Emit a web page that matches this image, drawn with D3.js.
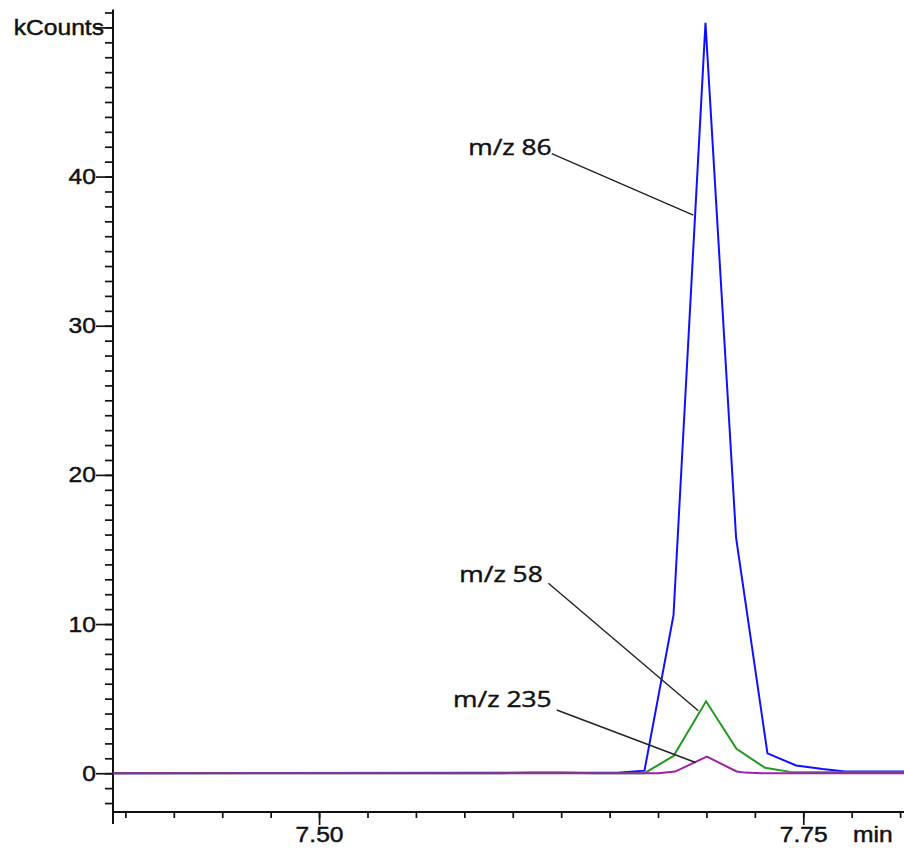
<!DOCTYPE html>
<html>
<head>
<meta charset="utf-8">
<script src="https://cdn.jsdelivr.net/npm/d3@7/dist/d3.min.js"></script>
<style>
  html, body { margin: 0; padding: 0; background: #fff; }
  svg { display: block; }
  .lbl { paint-order: stroke; stroke: #111; stroke-width: 0.45px; }
</style>
</head>
<body>
<svg id="chart" width="904" height="853"></svg>
<script>
// Extracted ion chromatograms: [retention time (min), intensity (kCounts)]
const mz86 = [
  [7.3936, 0], [7.654, 0.03], [7.668, 0.17], [7.683, 10.6], [7.6995, 50.3],
  [7.7153, 15.8], [7.7315, 1.33], [7.7463, 0.52], [7.760, 0.28], [7.7716, 0.12], [7.802, 0.12]
];
const mz58 = [
  [7.3936, 0], [7.594, 0], [7.6098, 0.04], [7.6261, 0.04], [7.641, 0], [7.668, 0],
  [7.683, 1.16], [7.6998, 4.82], [7.7155, 1.63], [7.7303, 0.36], [7.7432, 0.09], [7.802, 0.07]
];
const mz235 = [
  [7.3936, 0], [7.6752, 0], [7.6838, 0.11], [7.7002, 1.11], [7.7156, 0.12],
  [7.7199, 0.04], [7.7285, 0], [7.802, 0]
];

const seriesNames = ["m/z 86", "m/z 58", "m/z 235"];
const seriesColors = ["#1010ff", "#1f9a1f", "#a020a8"];

// Axis ticks and labels
const yMajorTicks = [0, 10, 20, 30, 40, 50];
const yTickLabels = ["0", "10", "20", "30", "40", "kCounts"];
const xMajorTicks = [7.50, 7.75];
const xTickLabels = ["7.50", "7.75"];
const xUnitLabel = "min";

// Callout labels: text end point and leader line, in data units
const callouts = [
  { text: "m/z 86",  textAt: [7.6201, 41.43], from: [7.6201, 41.54], to: [7.6932, 37.41] },
  { text: "m/z 58",  textAt: [7.6155, 12.84], from: [7.6184, 12.73], to: [7.6958, 4.19] },
  { text: "m/z 235", textAt: [7.6201, 4.46],  from: [7.6227, 4.24],  to: [7.6944, 0.72] }
];

const svg = d3.select("#chart");
svg.append("rect").attr("width", 904).attr("height", 853).attr("fill", "#fff");

const plot = { left: 113, right: 904, top: 9.5, bottom: 812 };
const x = d3.scaleLinear().domain([7.3936, 7.802]).range([plot.left, plot.right]);
const y = d3.scaleLinear().domain([-2.6, 51.2]).range([plot.bottom, plot.top]);

const axisFont = "'Liberation Sans', Arial, sans-serif";
const calloutFont = "'Open Sans', 'Noto Sans', sans-serif";
const inkColor = "#111";
const textStretch = 1.12;

// ---- Y axis ----
const yMinor = d3.axisLeft(y).tickValues(d3.range(-2, 52)).tickSize(8).tickFormat("");
const yMajor = d3.axisLeft(y).tickValues(yMajorTicks).tickSize(17).tickPadding(0)
  .tickFormat((d, i) => yTickLabels[i]);

const gyMinor = svg.append("g").attr("transform", `translate(${plot.left},0)`).call(yMinor);
const gyMajor = svg.append("g").attr("transform", `translate(${plot.left},0)`).call(yMajor);
[gyMinor, gyMajor].forEach(g => {
  g.select(".domain").remove();
  g.selectAll(".tick line").attr("stroke", inkColor).attr("stroke-width", 1.7);
});
gyMajor.selectAll(".tick text")
  .attr("class", "lbl")
  .attr("x", 0)
  .attr("fill", inkColor)
  .style("font-family", axisFont)
  .style("font-size", "22px")
  .attr("transform", (d, i) => `translate(${i === yMajorTicks.length - 1 ? -9 : -17},0) scale(${textStretch},1)`);

// ---- X axis ----
const xMinor = d3.axisBottom(x).tickValues(d3.range(0, 17).map(i => 7.40 + i * 0.025))
  .tickSize(6).tickFormat("");
const xMajor = d3.axisBottom(x).tickValues(xMajorTicks).tickSize(13).tickPadding(1)
  .tickFormat((d, i) => xTickLabels[i]);

const gxMinor = svg.append("g").attr("transform", `translate(0,${plot.bottom})`).call(xMinor);
const gxMajor = svg.append("g").attr("transform", `translate(0,${plot.bottom})`).call(xMajor);
[gxMinor, gxMajor].forEach(g => {
  g.select(".domain").remove();
  g.selectAll(".tick line").attr("stroke", inkColor).attr("stroke-width", 1.7);
});
gxMajor.selectAll(".tick text")
  .attr("class", "lbl")
  .attr("fill", inkColor)
  .style("font-family", axisFont)
  .style("font-size", "22px")
  .attr("transform", `scale(${textStretch},1)`)
  .attr("x", 0);

svg.append("text")
  .attr("class", "lbl")
  .attr("transform", `translate(853,842) scale(${textStretch},1)`)
  .attr("fill", inkColor)
  .style("font-family", axisFont)
  .style("font-size", "22px")
  .text(xUnitLabel);

// Axis lines
svg.append("line")
  .attr("x1", plot.left).attr("x2", plot.left)
  .attr("y1", plot.top).attr("y2", plot.bottom + 12)
  .attr("stroke", inkColor).attr("stroke-width", 2);
svg.append("line")
  .attr("x1", plot.left).attr("x2", plot.right)
  .attr("y1", plot.bottom).attr("y2", plot.bottom)
  .attr("stroke", inkColor).attr("stroke-width", 2);

// ---- Traces ----
const line = d3.line().x(d => x(d[0])).y(d => y(d[1]));
const traces = [mz86, mz58, mz235];
traces.forEach((data, i) => {
  svg.append("path")
    .datum(data)
    .attr("d", line)
    .attr("fill", "none")
    .attr("stroke", seriesColors[i])
    .attr("stroke-width", 2)
    .attr("stroke-linejoin", "miter");
});

// ---- Callouts ----
callouts.forEach(c => {
  svg.append("line")
    .attr("x1", x(c.from[0])).attr("y1", y(c.from[1]))
    .attr("x2", x(c.to[0])).attr("y2", y(c.to[1]))
    .attr("stroke", "#222").attr("stroke-width", 1.4);
  svg.append("text")
    .attr("class", "lbl")
    .attr("transform", `translate(${x(c.textAt[0])},${y(c.textAt[1])}) scale(1.2,1)`)
    .attr("text-anchor", "end")
    .attr("fill", inkColor)
    .style("font-family", calloutFont)
    .style("font-size", "22px")
    .text(c.text);
});
</script>
</body>
</html>
